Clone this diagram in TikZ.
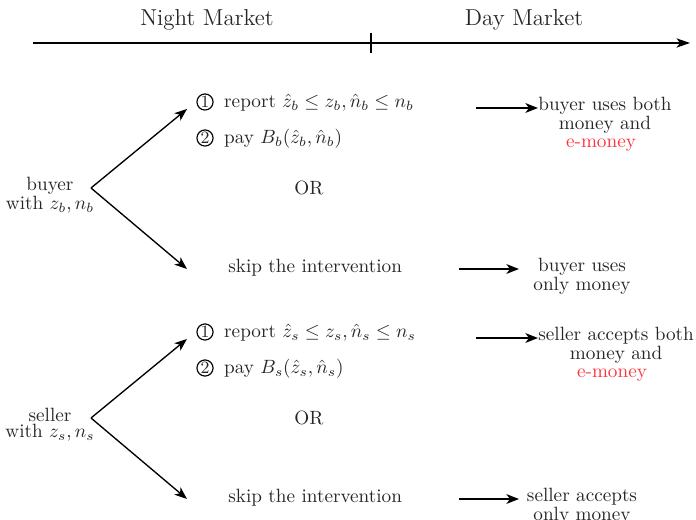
\documentclass[tikz,border=0pt]{standalone}
\usetikzlibrary{arrows.meta}
\definecolor{emred}{rgb}{1,0.2,0.25}
\begin{document}
\begin{tikzpicture}[x=0.5208pt,y=-0.5208pt,
  txt/.style={inner sep=0pt, font=\fontsize{10}{8.5}\selectfont, align=center, text=black!85},
  hdr/.style={inner sep=0pt, font=\large, text=black!85},
  num/.style={circle, draw, inner sep=0pt, minimum size=8.4pt, font=\small, line width=0.6pt, text=black!85},
  branch/.style={-{Stealth[length=6.5pt,width=5pt,inset=1.8pt]}, line width=0.7pt},
  res/.style={-{Stealth[length=6.5pt,width=5pt,inset=1.8pt]}, line width=1.2pt},
  axis/.style={-{Stealth[length=7pt,width=4.8pt,inset=1.8pt]}, line width=1pt}]
\useasboundingbox (0,0) rectangle (696,520);

% timeline
\node[hdr] (night) at (207,20) {Night Market};
\node[hdr] (day) at (524,20) {Day Market};
\coordinate (tl0) at (33,43);
\coordinate (tl1) at (690,43);
\draw[axis] (tl0) -- (tl1);
\coordinate (tka) at (371,33);
\coordinate (tkb) at (371,53);
\draw[line width=0.8pt] (tka) -- (tkb);

% buyer
\node[txt] (buyer) at (50,195) {buyer\\with $z_b,n_b$};
\coordinate (bv) at (91,188);
\coordinate (bu) at (187,109);
\coordinate (bd) at (187,269);
\draw[branch] (bv) -- (bu);
\draw[branch] (bv) -- (bd);
\node[num] (b1) at (205,102) {1};
\node[txt, anchor=base west] (brep) at ([xshift=5.3pt]b1.base east) {report $\hat z_b\le z_b,\hat n_b\le n_b$};
\node[num] (b2) at (205,138) {2};
\node[txt, anchor=base west] (bpay) at ([xshift=5.3pt]b2.base east) {pay $B_b(\hat z_b,\hat n_b)$};
\node[txt] (bor) at (309,188) {OR};
\node[txt, anchor=west] (bskip) at (228,268) {skip the intervention};

\coordinate (ba1) at (476,108);
\node[txt, anchor=north west] (bboth) at (538,97) {buyer uses both\\money and};
\draw[res] (ba1) -- (ba1 -| bboth.west);
\node[txt, text=emred] (bem) at (601,145) {e-money};
\coordinate (ba2) at (459,269);
\coordinate (ba2e) at (519,269);
\draw[res] (ba2) -- (ba2e);
\node[txt] (bonly) at (582,276) {buyer uses\\only money};

% seller
\node[txt] (seller) at (50,425) {seller\\with $z_s,n_s$};
\coordinate (sv) at (91,418);
\coordinate (su) at (187,339);
\coordinate (sd) at (187,499);
\draw[branch] (sv) -- (su);
\draw[branch] (sv) -- (sd);
\node[num] (s1) at (205,332) {1};
\node[txt, anchor=base west] (srep) at ([xshift=5.3pt]s1.base east) {report $\hat z_s\le z_s,\hat n_s\le n_s$};
\node[num] (s2) at (205,368) {2};
\node[txt, anchor=base west] (spay) at ([xshift=5.3pt]s2.base east) {pay $B_s(\hat z_s,\hat n_s)$};
\node[txt] (sor) at (309,418) {OR};
\node[txt, anchor=west] (sskip) at (228,498) {skip the intervention};

\coordinate (sa1) at (476,338);
\node[txt, anchor=north west] (sboth) at (538,327) {seller accepts both\\money and};
\draw[res] (sa1) -- (sa1 -| sboth.west);
\node[txt, text=emred] (sem) at (612,375) {e-money};
\coordinate (sa2) at (459,499);
\coordinate (sa2e) at (519,499);
\draw[res] (sa2) -- (sa2e);
\node[txt] (sonly) at (582,506) {seller accepts\\only money};
\end{tikzpicture}
\end{document}
